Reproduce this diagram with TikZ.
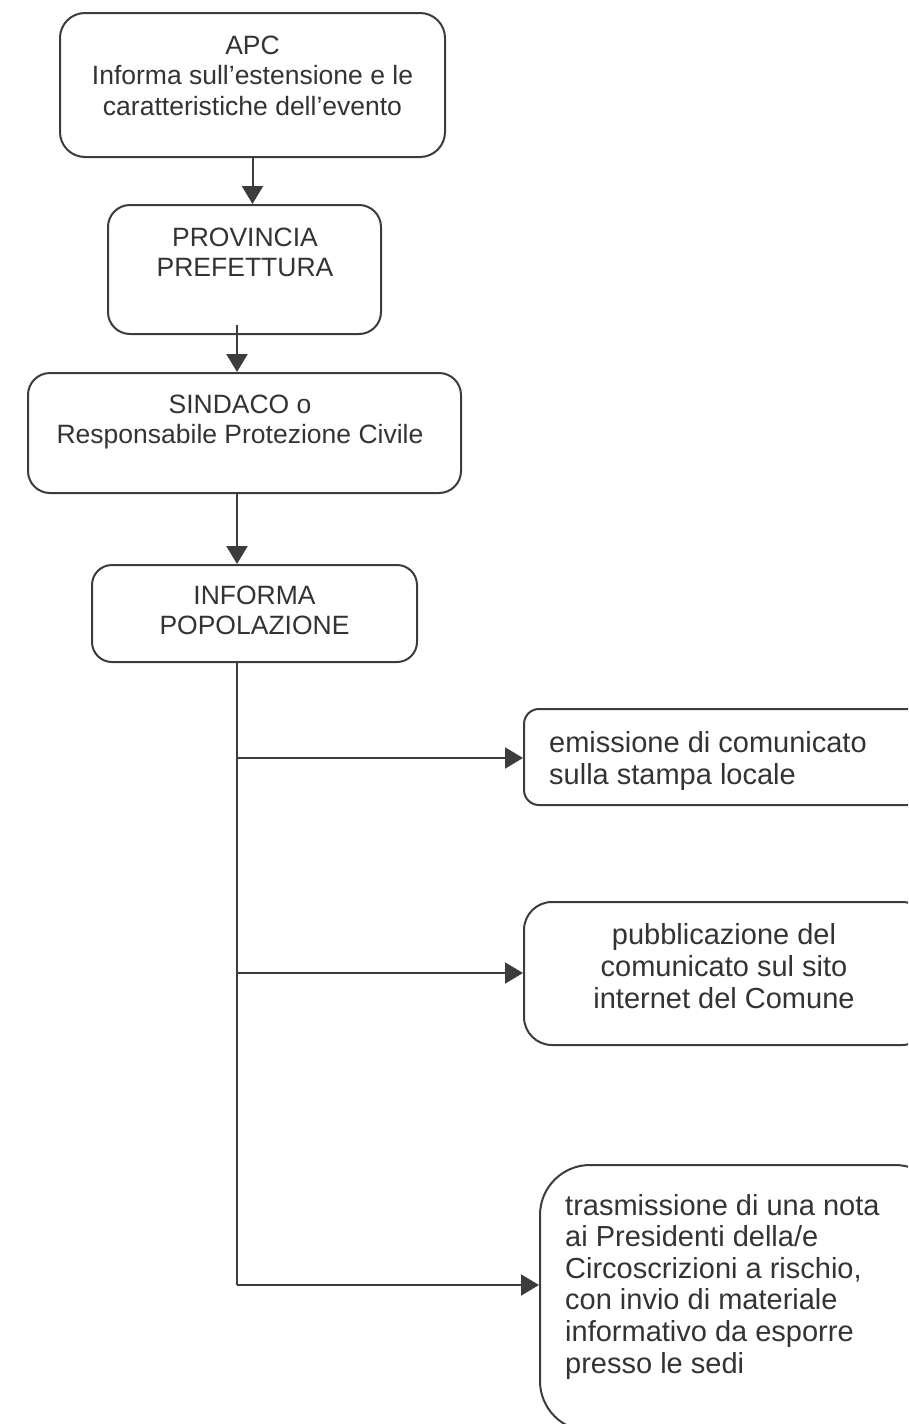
\documentclass[tikz,border=0pt]{standalone}
\usepackage{fontspec}
\setmainfont{Liberation Sans}
\usetikzlibrary{arrows.meta}
\definecolor{linec}{HTML}{3C3C3E}
\definecolor{textc}{HTML}{333335}
\begin{document}
\begin{tikzpicture}[x=1pt,y=-1pt,
  box/.style={draw=linec, line width=2pt, inner sep=0pt, fill=none},
  lefttxt/.style={text=textc, inner sep=0pt, align=center,
    font=\fontsize{26.5}{30.5}\selectfont},
  righttxt/.style={text=textc, inner sep=0pt,
    font=\fontsize{29}{32}\selectfont},
  flow/.style={draw=linec, line width=2pt, -{Triangle[length=18pt,width=21pt]}},
  plain/.style={draw=linec, line width=2pt}]
\useasboundingbox (0,0) rectangle (908,1424);
\clip (0,0) rectangle (908,1424);

% left column boxes (text anchored at the baseline of its last line)
\node[box, rounded corners=25pt, minimum width=385pt, minimum height=144pt] (apc) at (252.5,85) {};
\node[lefttxt, anchor=base] (apct) at (252.5,115) {APC\\Informa sull’estensione e le\\caratteristiche dell’evento};

\node[box, rounded corners=22pt, minimum width=273pt, minimum height=129pt] (prov) at (244.5,269.5) {};
\node[lefttxt, anchor=base] (provt) at (245,276.5) {PROVINCIA\\PREFETTURA};

\node[box, rounded corners=22pt, minimum width=433pt, minimum height=120pt] (sind) at (244.5,433) {};
\node[lefttxt, anchor=base] (sindt) at (240,443.5) {SINDACO o\\Responsabile Protezione Civile};

\node[box, rounded corners=20pt, minimum width=325pt, minimum height=97pt] (inf) at (254.5,613.5) {};
\node[lefttxt, anchor=base] (inft) at (254.5,634.5) {INFORMA\\POPOLAZIONE};

% right column boxes
\node[box, rounded corners=15pt, minimum width=406pt, minimum height=96pt] (r1) at (727,757) {};
\node[righttxt, anchor=base west, align=left] (r1t) at (549,784) {emissione di comunicato\\sulla stampa locale};

\node[box, rounded corners=28pt, minimum width=406pt, minimum height=143pt] (r2) at (727,973.5) {};
\node[righttxt, anchor=base, align=center] (r2t) at (724,1008.5) {pubblicazione del\\comunicato sul sito\\internet del Comune};

\node[box, rounded corners=50pt, minimum width=405pt, minimum height=266pt] (r3) at (742.5,1298) {};
\node[righttxt, anchor=base west, align=left, font=\fontsize{29}{31.6}\selectfont] (r3t) at (565,1373) {trasmissione di una nota\\ai Presidenti della/e\\Circoscrizioni a rischio,\\con invio di materiale\\informativo da esporre\\presso le sedi};

% spine and connection points
\coordinate (p2) at (237,325);
\coordinate (b1) at (236.5,758);
\coordinate (b2) at (236.5,973);
\coordinate (b3) at (236.5,1285);

% connectors
\draw[flow] (apc.south) -- (apc.south |- prov.north);
\draw[flow] (p2) -- (p2 |- sind.north);
\draw[flow] (p2 |- sind.south) -- (p2 |- inf.north);
\draw[plain] (b1 |- inf.south) -- (b3);
\draw[flow] (b1) -- (b1 -| r1.west);
\draw[flow] (b2) -- (b2 -| r2.west);
\draw[flow] (b3) -- (b3 -| r3.west);
\end{tikzpicture}
\end{document}
